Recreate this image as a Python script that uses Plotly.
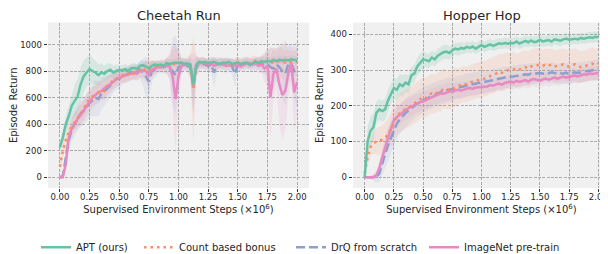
import numpy as np
import plotly.graph_objects as go

# evaluation steps (x 1e6), regular grid of 81 checkpoints
steps = np.round(np.arange(81) * 0.025, 3)

series_names = ["APT (ours)", "Count based bonus", "DrQ from scratch", "ImageNet pre-train"]
colors = ["#66c2a5", "#fc8d62", "#8da0cb", "#e78ac3"]
fills = ["rgba(102,194,165,0.18)", "rgba(252,141,98,0.15)", "rgba(141,160,203,0.15)", "rgba(231,138,195,0.15)"]
dashes = ["solid", "2.5px,4px", "9px,4px", "solid"]
legend_ids = ["legend", "legend2", "legend3", "legend4"]
legend_x_px = [28, 131, 283, 416]

# ---------------- Cheetah Run ----------------
cheetah_apt = [225,300,400,460,540,580,610,700,760,790,
 815,800,790,770,790,780,800,810,790,800,
 810,805,815,800,820,825,815,840,845,835,
 820,840,850,845,850,840,860,855,860,865,
 860,865,855,860,850,700,850,870,865,870,
 860,865,870,860,855,865,860,870,855,860,
 865,855,860,865,850,860,870,865,875,870,
 880,870,885,875,885,880,885,880,890,885,
 880]
cheetah_count = [80,200,280,340,380,420,450,480,510,560,
 590,610,620,640,660,650,690,710,730,740,
 760,770,760,780,790,780,800,810,800,820,
 810,825,830,840,835,850,850,855,860,850,
 860,865,860,855,850,660,840,860,865,860,
 855,860,865,850,860,855,865,860,850,860,
 865,855,860,870,860,880,875,865,870,860,
 875,860,870,865,875,870,865,860,870,865,
 875]
cheetah_drq = [0,10,150,280,360,400,440,480,500,530,
 560,580,600,590,630,650,670,690,720,740,
 740,760,770,780,790,800,790,810,790,760,
 720,800,810,830,840,830,840,820,800,770,
 830,840,850,840,830,680,830,850,860,850,
 840,850,790,850,855,850,845,850,840,780,
 845,850,855,860,850,845,855,860,850,860,
 850,830,820,850,830,800,780,850,860,800,
 770]
cheetah_imagenet = [0,0,100,300,370,410,440,470,500,540,
 570,600,620,640,650,670,690,700,720,740,
 750,760,770,775,780,790,780,800,805,800,
 770,810,820,830,830,835,840,835,760,590,
 760,840,850,855,850,690,840,860,865,860,
 850,855,840,850,860,855,840,845,850,840,
 845,835,850,860,855,850,860,840,850,820,
 840,600,780,820,700,620,650,780,860,640,
 720]
cheetah_apt_sd = [40,50,60,80,100,120,130,130,120,110,
 110,100,90,80,70,60,60,50,50,50,
 40,40,40,40,35,35,35,35,35,35,
 35,35,30,30,30,30,30,30,30,30,
 30,30,30,30,40,120,40,30,30,30,
 30,30,30,30,30,30,30,30,30,30,
 30,30,30,30,30,30,30,30,30,30,
 30,30,30,30,30,30,30,30,30,30,
 30]
cheetah_count_sd = [60,60,60,60,60,60,70,70,70,70,
 70,70,70,70,70,70,60,60,60,60,
 50,50,50,50,50,50,50,50,50,60,
 80,60,50,40,40,40,50,60,100,150,
 80,40,40,50,80,400,80,40,40,40,
 40,40,40,40,40,40,40,40,40,40,
 40,40,40,40,40,40,40,40,50,60,
 80,120,100,80,100,120,150,100,80,100,
 100]
cheetah_drq_sd = [10,20,80,90,90,90,90,100,100,110,
 110,120,140,130,120,110,100,90,80,80,
 70,60,60,60,60,60,60,70,100,150,
 150,80,60,50,50,50,60,80,250,300,
 150,60,50,50,80,200,80,50,50,50,
 50,60,120,60,50,50,50,50,60,100,
 50,50,50,50,50,50,50,50,60,80,
 100,150,150,120,150,200,250,150,120,200,
 250]
cheetah_imagenet_sd = [5,10,60,70,70,70,70,80,80,80,
 80,80,80,80,70,70,70,70,60,60,
 60,50,50,50,50,50,50,50,60,80,
 100,60,50,40,40,40,60,100,250,400,
 200,60,40,40,80,250,80,40,40,40,
 40,40,60,40,40,40,60,40,40,40,
 40,40,40,40,40,40,40,60,60,100,
 150,300,200,150,300,350,300,200,150,300,
 250]

# ---------------- Hopper Hop ----------------
hopper_apt = [0,100,130,140,180,190,185,190,215,235,
 250,245,260,255,265,260,285,290,310,320,
 330,328,325,335,330,340,345,350,352,348,
 355,360,358,362,360,365,362,366,360,365,
 370,365,368,372,368,372,375,373,376,374,
 376,375,380,374,377,382,378,383,378,380,
 385,380,382,384,380,386,384,382,386,388,
 385,387,388,386,390,388,390,392,390,393,
 392]
hopper_count = [11,55,85,95,100,102,105,110,120,135,
 155,170,180,185,190,195,200,205,212,218,
 225,222,230,235,232,238,240,248,245,244,
 245,252,255,258,262,260,265,268,270,272,
 272,276,280,283,286,290,295,292,298,300,
 300,303,298,302,305,308,304,310,312,314,
 315,312,316,313,315,310,312,314,316,312,
 310,314,316,312,308,310,312,315,318,314,
 318]
hopper_drq = [0,0,0,0,0,10,40,65,90,110,
 135,150,162,172,180,187,193,200,207,212,
 216,220,224,228,232,236,238,241,243,245,
 247,250,252,254,256,258,260,262,263,264,
 265,267,269,271,272,274,276,278,279,280,
 281,282,284,283,286,288,287,290,289,291,
 292,290,293,291,294,292,289,291,290,293,
 288,291,294,292,295,296,297,298,299,300,
 302]
hopper_imagenet = [0,0,0,0,5,25,55,85,110,135,
 160,168,175,182,188,193,198,203,207,210,
 212,216,220,224,228,232,235,234,238,240,
 240,243,245,242,246,248,250,247,251,252,
 252,255,254,258,256,260,262,259,264,266,
 268,265,270,267,270,272,268,273,275,272,
 270,274,276,273,277,279,276,280,282,279,
 281,283,285,282,286,288,287,290,289,291,
 292]
hopper_apt_sd = [0,40,40,40,30,30,30,30,30,30,
 30,30,30,30,25,25,25,25,25,25,
 25,20,20,20,20,20,20,20,20,18,
 18,18,18,18,16,16,16,16,16,16,
 16,15,15,15,15,15,15,15,15,15,
 15,15,15,15,15,15,15,15,15,15,
 15,15,15,15,15,15,15,15,15,15,
 15,15,15,15,15,15,15,15,15,15,
 15]
hopper_count_sd = [10,20,25,30,35,40,40,45,45,50,
 50,50,55,55,55,55,55,55,55,55,
 55,55,55,55,55,55,55,55,55,55,
 55,55,50,50,50,50,50,50,50,50,
 50,50,50,50,50,50,50,50,50,50,
 48,48,48,48,48,48,48,48,48,48,
 45,45,45,45,45,45,45,45,45,45,
 45,45,45,45,45,45,45,45,45,45,
 45]
hopper_drq_sd = [0,0,5,10,15,25,35,40,45,45,
 45,45,40,40,40,40,38,36,35,35,
 35,35,35,35,35,35,35,35,35,35,
 32,32,32,32,32,32,32,32,32,32,
 30,30,30,30,30,30,30,30,30,30,
 30,30,30,30,30,30,30,30,30,30,
 28,28,28,28,28,28,28,28,28,28,
 28,28,28,28,28,28,28,28,28,28,
 28]
hopper_imagenet_sd = [0,0,0,5,10,20,30,30,30,30,
 30,30,28,28,28,28,26,26,25,25,
 25,25,25,25,25,25,25,25,25,25,
 22,22,22,22,22,22,22,22,22,22,
 20,20,20,20,20,20,20,20,20,20,
 20,20,20,20,20,20,20,20,20,20,
 20,20,20,20,20,20,20,20,20,20,
 20,20,20,20,20,20,20,20,20,20,
 20]

x_ticks = [0, 0.25, 0.5, 0.75, 1.0, 1.25, 1.5, 1.75, 2.0]
x_ticktext = ["0.00", "0.25", "0.50", "0.75", "1.00", "1.25", "1.50", "1.75", "2.00"]
cheetah_yticks = [0, 200, 400, 600, 800, 1000]
hopper_yticks = [0, 100, 200, 300, 400]

panels = [
    ("x", "y", [cheetah_apt, cheetah_count, cheetah_drq, cheetah_imagenet],
     [cheetah_apt_sd, cheetah_count_sd, cheetah_drq_sd, cheetah_imagenet_sd]),
    ("x2", "y2", [hopper_apt, hopper_count, hopper_drq, hopper_imagenet],
     [hopper_apt_sd, hopper_count_sd, hopper_drq_sd, hopper_imagenet_sd]),
]

fig = go.Figure()
xs = list(steps)
for pi, (xa, ya, means, sds) in enumerate(panels):
    for k in range(4):
        m = np.array(means[k], dtype=float)
        s = np.array(sds[k], dtype=float)
        up = list(m + s)
        lo = list(m - s)
        fig.add_trace(go.Scatter(x=xs + xs[::-1], y=up + lo[::-1], fill="toself",
                                 fillcolor=fills[k], line=dict(width=0),
                                 hoverinfo="skip", showlegend=False, xaxis=xa, yaxis=ya))
    for k in [2, 3, 1, 0]:
        fig.add_trace(go.Scatter(x=xs, y=means[k], mode="lines", name=series_names[k],
                                 line=dict(color=colors[k], width=2.5, dash=dashes[k]),
                                 showlegend=(pi == 0), legend=legend_ids[k],
                                 xaxis=xa, yaxis=ya))

H = 254.0
W = 608.0
ydom = [(H - 185) / H, (H - 15) / H]
axis_common = dict(ticks="outside", ticklen=3.5, tickwidth=0.8, tickcolor="#333333",
                   showgrid=True, gridcolor="#ababab", gridwidth=0.8, griddash="3px,1.3px",
                   zeroline=False, showline=False, automargin=False,
                   tickfont=dict(size=8.5, color="#262626"))

legend_common = dict(orientation="h", xanchor="left", y=(H - 246) / H, yanchor="middle",
                     font=dict(size=10, color="#262626"), itemwidth=30, bgcolor="rgba(0,0,0,0)")
legends = {lid: dict(x=px / W, **legend_common) for lid, px in zip(legend_ids, legend_x_px)}

xtitle = "Supervised Environment Steps (×10<sup>6</sup>)"
fig.update_layout(
    width=608, height=254,
    margin=dict(l=0, r=0, t=0, b=0),
    paper_bgcolor="white", plot_bgcolor="#f0f0f0",
    font=dict(family="DejaVu Sans", color="#262626"),
    xaxis=dict(domain=[40 / W, 301 / W], range=[-0.1, 2.1], tickvals=x_ticks, ticktext=x_ticktext,
               title=dict(text=xtitle, font=dict(size=10), standoff=5), ticklabelstandoff=-3,
               anchor="y", **axis_common),
    yaxis=dict(domain=ydom, range=[-80, 1166], tickvals=cheetah_yticks,
               title=dict(text="Episode Return", font=dict(size=10), standoff=8),
               anchor="x", **axis_common),
    xaxis2=dict(domain=[345 / W, 602 / W], range=[-0.1, 2.1], tickvals=x_ticks, ticktext=x_ticktext,
                title=dict(text=xtitle, font=dict(size=10), standoff=5), ticklabelstandoff=-3,
                anchor="y2", **axis_common),
    yaxis2=dict(domain=ydom, range=[-30, 433], tickvals=hopper_yticks,
                title=dict(text="Episode Return", font=dict(size=10), standoff=5),
                anchor="x2", **axis_common),
    annotations=[
        dict(text="Cheetah Run", x=(40 + 301) / 2 / W, y=(H - 8) / H, xref="paper", yref="paper",
             showarrow=False, font=dict(size=13, color="#262626"), xanchor="center", yanchor="middle"),
        dict(text="Hopper Hop", x=(345 + 602) / 2 / W, y=(H - 8) / H, xref="paper", yref="paper",
             showarrow=False, font=dict(size=13, color="#262626"), xanchor="center", yanchor="middle"),
    ],
    **legends,
)

fig.write_html("out.html")
